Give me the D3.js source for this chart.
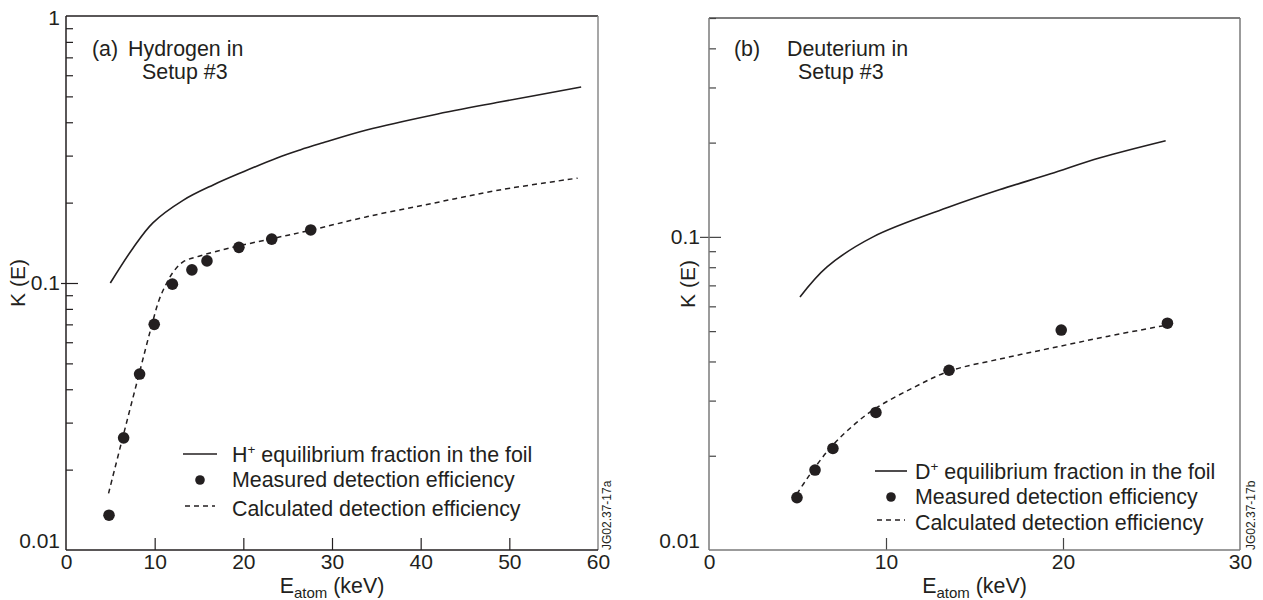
<!DOCTYPE html>
<html><head><meta charset="utf-8">
<script src="https://cdn.jsdelivr.net/npm/d3@7"></script>
<style>
body{margin:0;background:#fff}
svg{display:block}
text{font-family:"Liberation Sans",Arial,Helvetica,sans-serif;fill:#231f20}
</style></head><body>
<svg id="c" width="1263" height="600"></svg>
<script>
// ---------- Panel (a): Hydrogen ----------
const hEqE   = [5, 7.55, 9.8, 13.2, 16.6, 20, 23.8, 26.4, 28.6, 33.9, 41.4, 48.9, 58.1];
const hEqK   = [0.100, 0.135, 0.168, 0.204, 0.233, 0.261, 0.294, 0.315, 0.332, 0.374, 0.426, 0.476, 0.542];
const hCalcE = [4.8, 6.5, 8.3, 9.5, 10.5, 11.3, 12.1, 13.2, 15, 18.8, 23.4, 27.7, 33.9, 41.4, 48.9, 57.7];
const hCalcK = [0.0163, 0.0272, 0.0464, 0.0661, 0.0864, 0.0991, 0.110, 0.120, 0.126, 0.136, 0.147, 0.158, 0.177, 0.199, 0.223, 0.247];
const hMeasE = [4.85, 6.5, 8.3, 9.95, 12.0, 14.2, 15.9, 19.5, 23.2, 27.6];
const hMeasK = [0.0135, 0.0263, 0.0456, 0.070, 0.099, 0.112, 0.121, 0.136, 0.146, 0.158];
// ---------- Panel (b): Deuterium ----------
const dEqE   = [5.14, 6.67, 9.27, 13.6, 16.4, 19.3, 22.1, 25.8];
const dEqK   = [0.0643, 0.0802, 0.100, 0.1247, 0.1413, 0.159, 0.1788, 0.2027];
const dCalcE = [4.97, 5.54, 6.67, 7.8, 9.27, 11.5, 13.6, 16.5, 19.3, 22.5, 25.9];
const dCalcK = [0.0151, 0.0169, 0.0206, 0.0240, 0.0280, 0.0329, 0.0373, 0.0408, 0.0441, 0.0481, 0.0523];
const dMeasE = [4.97, 5.99, 7.0, 9.43, 13.56, 19.9, 25.9];
const dMeasK = [0.0147, 0.0180, 0.0211, 0.0275, 0.0375, 0.0504, 0.053];
// ---------- Axis ticks / labels ----------
const hXTicks = [0, 10, 20, 30, 40, 50, 60];
const dXTicks = [0, 10, 20, 30];
const yMajor  = [0.01, 0.1, 1];
const yLabels = ["0.01", "0.1", "1"];
const hMinor  = [0.02,0.03,0.04,0.05,0.06,0.07,0.08,0.09,0.2,0.3,0.4,0.5,0.6,0.7,0.8,0.9];
const dMinor  = [0.02,0.03,0.04,0.05,0.06,0.07,0.08,0.09,0.2,0.3,0.4,0.5];
const legendH = ["equilibrium fraction in the foil", "Measured detection efficiency", "Calculated detection efficiency"];

const svg = d3.select("#c");
const zip = (a,b) => a.map((v,i)=>[v,b[i]]);
const FS = 21.4;

function panel(cfg){
  const x = d3.scaleLinear().domain(cfg.xDom).range([cfg.x0, cfg.x1]);
  const y = d3.scaleLog().domain(cfg.yDom).range([cfg.y1, cfg.y0]);
  const g = svg.append("g");
  const ac = cfg.axisColor, bc = cfg.borderColor;

  // frame
  g.append("line").attr("x1",cfg.x0).attr("x2",cfg.x1).attr("y1",cfg.y0).attr("y2",cfg.y0).attr("stroke",cfg.topColor).attr("stroke-width",1.3);
  g.append("line").attr("x1",cfg.x1).attr("x2",cfg.x1).attr("y1",cfg.y0).attr("y2",cfg.y1).attr("stroke",bc).attr("stroke-width",1.5);

  // minor y ticks (inside)
  g.append("g").attr("transform",`translate(${cfg.x0},0)`)
    .call(d3.axisLeft(y).tickValues(cfg.minor).tickSize(-7).tickFormat(""))
    .call(a=>a.select(".domain").remove())
    .call(a=>a.selectAll("line").attr("stroke",cfg.tickColor).attr("stroke-width",1.2));
  // major y tick (crossing)
  g.append("g").attr("transform",`translate(${cfg.x0},0)`)
    .call(d3.axisLeft(y).tickValues([0.1]).tickSize(-12).tickFormat(""))
    .call(a=>a.select(".domain").remove())
    .call(a=>a.selectAll("line").attr("x1",-cfg.outTick).attr("stroke",cfg.tickColor).attr("stroke-width",1.2));
  // y labels
  const labVals = yMajor.filter(v=>v<=cfg.yDom[1]*1.0001);
  g.append("g").attr("transform",`translate(${cfg.x0},0)`)
    .call(d3.axisLeft(y).tickValues(labVals).tickSize(0).tickPadding(cfg.labPad)
      .tickFormat(d=>yLabels[yMajor.indexOf(d)]))
    .call(a=>a.select(".domain").remove())
    .call(a=>a.selectAll("text").attr("font-size",21).attr("font-family",null).attr("fill","#231f20")
      .attr("dy",d=> d===0.01 ? "-0.12em" : (d===1 ? "0.4em" : "0.3em")));
  // y axis line
  g.append("line").attr("x1",cfg.x0).attr("x2",cfg.x0).attr("y1",cfg.y0).attr("y2",cfg.y1).attr("stroke",ac).attr("stroke-width",1.5);

  // x axis: ticks inside
  const innerX = cfg.xTicks.slice(1,-1);
  g.append("g").attr("transform",`translate(0,${cfg.y1})`)
    .call(d3.axisBottom(x).tickValues(innerX).tickSize(-12).tickFormat(""))
    .call(a=>a.select(".domain").remove())
    .call(a=>a.selectAll("line").attr("stroke",cfg.tickColor).attr("stroke-width",1.2));
  g.append("g").attr("transform",`translate(0,${cfg.y1})`)
    .call(d3.axisBottom(x).tickValues(cfg.xTicks).tickSize(0).tickPadding(4).tickFormat(d3.format("d")))
    .call(a=>a.select(".domain").remove())
    .call(a=>a.selectAll("text").attr("font-size",21).attr("font-family",null).attr("fill","#231f20"));
  g.append("line").attr("x1",cfg.x0).attr("x2",cfg.x1).attr("y1",cfg.y1).attr("y2",cfg.y1).attr("stroke",ac).attr("stroke-width",1.5);

  // series
  const line = d3.line().x(d=>x(d[0])).y(d=>y(d[1])).curve(d3.curveCatmullRom.alpha(0.5));
  g.append("path").attr("d",line(zip(cfg.eqE,cfg.eqK))).attr("fill","none").attr("stroke","#231f20").attr("stroke-width",1.6);
  g.append("path").attr("d",line(zip(cfg.calcE,cfg.calcK))).attr("fill","none").attr("stroke","#231f20").attr("stroke-width",1.5).attr("stroke-dasharray","5,4");
  g.selectAll("circle.m").data(zip(cfg.measE,cfg.measK)).join("circle").attr("class","m")
    .attr("cx",d=>x(d[0])).attr("cy",d=>y(d[1])).attr("r",5.8).attr("fill","#231f20");

  // title
  const t = g.append("g");
  t.append("text").attr("x",cfg.tA).attr("y",56).attr("font-size",FS).text(cfg.tag);
  t.append("text").attr("x",cfg.tB).attr("y",56).attr("font-size",FS).text(cfg.species);
  t.append("text").attr("x",cfg.tC).attr("y",79).attr("font-size",FS).text("Setup #3");

  // legend
  const L = cfg.leg;
  g.append("line").attr("x1",L.lx0).attr("x2",L.lx1).attr("y1",L.y[0]).attr("y2",L.y[0]).attr("stroke","#231f20").attr("stroke-width",1.6);
  g.append("circle").attr("cx",(L.lx0+L.lx1)/2).attr("cy",L.y[1]).attr("r",4.8).attr("fill","#231f20");
  g.append("line").attr("x1",L.lx0+2).attr("x2",L.lx1-2).attr("y1",L.y[2]).attr("y2",L.y[2]).attr("stroke","#231f20").attr("stroke-width",1.5).attr("stroke-dasharray","5,4");
  const t0 = g.append("text").attr("x",L.tx).attr("y",L.y[0]+8).attr("font-size",FS);
  t0.append("tspan").text(cfg.ion);
  t0.append("tspan").attr("font-size",13.5).attr("dy",-8).text("+");
  t0.append("tspan").attr("dy",8).text(" "+legendH[0]);
  g.append("text").attr("x",L.tx).attr("y",L.y[1]+7).attr("font-size",FS).text(legendH[1]);
  g.append("text").attr("x",L.tx).attr("y",L.y[2]+10).attr("font-size",FS).text(legendH[2]);

  // axis titles
  const xt = g.append("text").attr("x",(cfg.x0+cfg.x1)/2).attr("y",593).attr("text-anchor","middle").attr("font-size",FS);
  xt.append("tspan").text("E");
  xt.append("tspan").attr("font-size",15).attr("dy",5).text("atom");
  xt.append("tspan").attr("dy",-5).text(" (keV)");
  g.append("text").attr("transform",`translate(${cfg.yTitleX},${cfg.y0 + (cfg.y1-cfg.y0)/2})`+" rotate(-90)")
    .attr("text-anchor","middle").attr("font-size",21).text("K (E)");
  // figure code
  g.append("text").attr("transform",`translate(${cfg.codeX},550) rotate(-90)`).attr("font-size",12).text(cfg.code);
}

panel({xDom:[0,60], yDom:[0.01,1], x0:66, x1:598, y0:16, y1:550,
  xTicks:hXTicks, minor:hMinor, outTick:5, labPad:6,
  axisColor:"#231f20", borderColor:"#8a8a8a", topColor:"#231f20", tickColor:"#231f20",
  eqE:hEqE, eqK:hEqK, calcE:hCalcE, calcK:hCalcK, measE:hMeasE, measK:hMeasK,
  tag:"(a)", species:"Hydrogen in", tA:92, tB:128, tC:142,
  leg:{lx0:183, lx1:217, tx:232, y:[454,480,506]}, ion:"H",
  yTitleX:25, codeX:611, code:"JG02.37-17a"});

panel({xDom:[0,30], yDom:[0.01,0.5], x0:709, x1:1240, y0:18, y1:550,
  xTicks:dXTicks, minor:dMinor, outTick:9, labPad:9,
  axisColor:"#7a7a7a", borderColor:"#7a7a7a", topColor:"#555", tickColor:"#444",
  eqE:dEqE, eqK:dEqK, calcE:dCalcE, calcK:dCalcK, measE:dMeasE, measK:dMeasK,
  tag:"(b)", species:"Deuterium in", tA:734, tB:787, tC:798,
  leg:{lx0:875, lx1:907, tx:915, y:[471,497,520]}, ion:"D",
  yTitleX:695, codeX:1255, code:"JG02.37-17b"});
</script>
</body></html>
